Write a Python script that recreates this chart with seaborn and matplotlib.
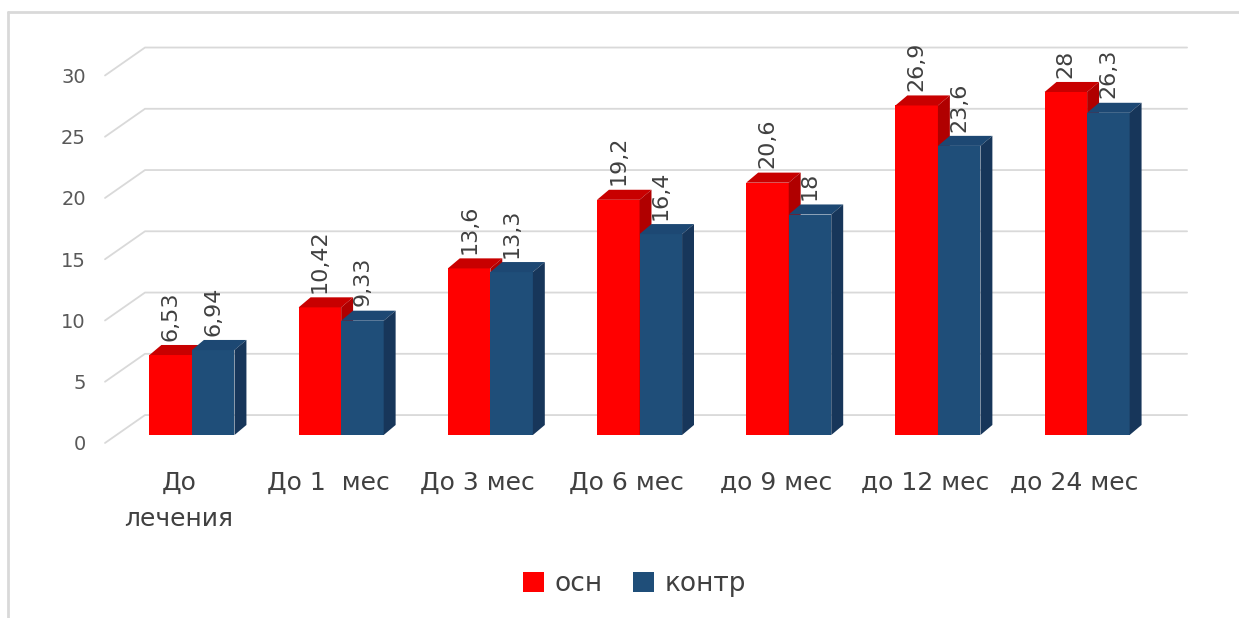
import numpy as np
import pandas as pd
import seaborn as sns
import matplotlib.pyplot as plt
import matplotlib.transforms as mtransforms
from matplotlib.patches import Polygon, Patch
from matplotlib.lines import Line2D

# --- Data ---
categories = ["До\nлечения", "До 1  мес", "До 3 мес", "До 6 мес",
              "до 9 мес", "до 12 мес", "до 24 мес"]
series_names = ["осн", "контр"]
osn = [6.53, 10.42, 13.6, 19.2, 20.6, 26.9, 28]
kontr = [6.94, 9.33, 13.3, 16.4, 18, 23.6, 26.3]
y_ticks = [0, 5, 10, 15, 20, 25, 30]

df = pd.DataFrame({
    "cat": categories * 2,
    "group": [series_names[0]] * len(osn) + [series_names[1]] * len(kontr),
    "value": osn + kontr,
})

# --- Style ---
sns.set_theme(style="white")
plt.rcParams["font.family"] = ["DejaVu Sans"]

front = {"осн": "#ff0000", "контр": "#1f4e79"}
top_c = {"осн": "#c80000", "контр": "#1d4873"}
side_c = {"осн": "#b00000", "контр": "#17365a"}
text_c = "#404040"
grid_c = "#d9d9d9"

# 3D depth of bars and of the floor/walls (data units)
dxb, dyb = 0.08, 0.82
gx0, gx1, gx2 = -0.583, -0.315, 6.67
gy0, gy1 = -0.65, 1.63

fig = plt.figure(figsize=(12.39, 6.18), dpi=100)
ax = fig.add_axes([0.0827, 0.2822, 0.8790, 0.6284])

sns.barplot(data=df, x="cat", y="value", hue="group", palette=front,
            width=0.57, saturation=1, ax=ax, legend=False, zorder=3)

# gridlines drawn with perspective
for v in y_ticks:
    ax.plot([gx0, gx1, gx2], [v + gy0, v + gy1, v + gy1], color=grid_c,
            lw=1.3, zorder=1, clip_on=False)

# 3D faces + value labels
for k, (name, cont) in enumerate(zip(series_names, ax.containers)):
    z = 3 + k
    for bar in cont:
        bar.set_zorder(z)
        bar.set_edgecolor("none")
        x, w, h = bar.get_x(), bar.get_width(), bar.get_height()
        ax.add_patch(Polygon([(x, h), (x + dxb, h + dyb), (x + w + dxb, h + dyb), (x + w, h)],
                             closed=True, fc=top_c[name], ec="none", zorder=z + 0.1))
        ax.add_patch(Polygon([(x + w, 0), (x + w + dxb, dyb), (x + w + dxb, h + dyb), (x + w, h)],
                             closed=True, fc=side_c[name], ec="none", zorder=z + 0.1))
        lbl = f"{h:g}".replace(".", ",")
        ax.text(x + w / 2, h + dyb + 0.35, lbl, rotation=90, ha="center", va="bottom",
                fontsize=16, color=text_c, zorder=10)

# ticks sit at the front end of each perspective gridline
ax.set_yticks([v + gy0 for v in y_ticks])
ax.set_yticklabels([str(v) for v in y_ticks])
ax.set_xlim(-0.6, 6.7)
ax.set_ylim(-0.7, 31)
ax.tick_params(axis="y", length=0, pad=12, labelsize=14, labelcolor="#595959")
ax.tick_params(axis="x", length=0, pad=20, labelsize=18, labelcolor=text_c)
shift = mtransforms.ScaledTranslation(-13 / 100, 0, fig.dpi_scale_trans)
for t in ax.get_xticklabels():
    t.set_transform(t.get_transform() + shift)
    t.set_linespacing(1.6)
ax.set_xlabel("")
ax.set_ylabel("")
for s in ax.spines.values():
    s.set_visible(False)

handles = [Patch(fc=front[n], ec="none", label=n) for n in series_names]
fig.legend(handles=handles, loc="center", bbox_to_anchor=(0.512, 0.055), ncol=2,
           frameon=False, fontsize=19, handlelength=0.8, handleheight=0.8,
           handletextpad=0.4, columnspacing=1.15, labelcolor=text_c)

# outer frame (left and top only)
fig.add_artist(Line2D([8 / 1239, 8 / 1239], [0, 1 - 12 / 618], color=grid_c, lw=2))
fig.add_artist(Line2D([8 / 1239, 1], [1 - 12 / 618, 1 - 12 / 618], color=grid_c, lw=2))

fig.savefig("out.png", dpi=100, facecolor="white")
